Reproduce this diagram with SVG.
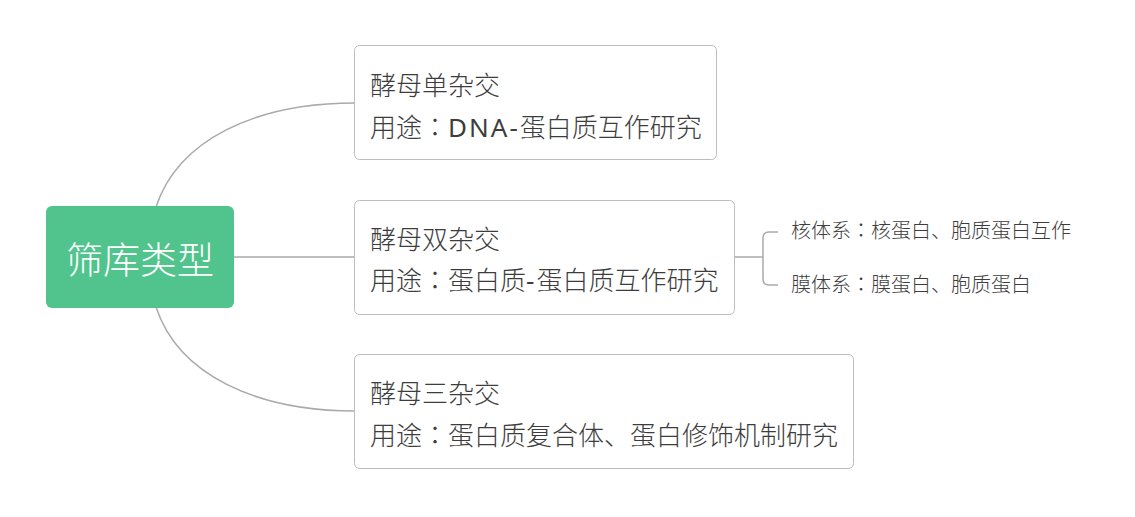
<svg xmlns="http://www.w3.org/2000/svg" width="1135" height="517" viewBox="0 0 1135 517">
<style>
.box{fill:#fff;stroke:#bdbdbd;stroke-width:1}
.t{font-family:"Noto Sans","Noto Sans CJK SC",sans-serif;fill:#3d3d3d;font-size:26px;font-weight:300}
.s{font-family:"Noto Sans","Noto Sans CJK SC",sans-serif;fill:#3d3d3d;font-size:20px;font-weight:300}
.k{font-family:"Noto Sans CJK TC",sans-serif}
.l{font-weight:400;letter-spacing:2px}
.c{fill:none;stroke:#aaaaaa;stroke-width:1.5}
</style>
<rect width="1135" height="517" fill="#fff"/>
<g id="connectors">
<path class="c" d="M156,207 C178,140 255,103 355,103"/>
<path class="c" d="M234,257 L355,257"/>
<path class="c" d="M156,307 C178,374 255,411 355,411"/>
<path class="c" d="M735,257 L763,257"/>
<path class="c" d="M778,232 L769,232 Q763,232 763,238 L763,279 Q763,285 769,285 L778,285"/>
</g>
<g id="root">
<rect x="46" y="206" width="188" height="102" rx="6" fill="#50c48c"/>
<text x="140" y="274" text-anchor="middle" font-family="Noto Sans CJK SC,Noto Sans,sans-serif" font-size="37" font-weight="300" fill="#fff">筛库类型</text>
</g>
<g id="n1">
<rect class="box" x="354.5" y="45.5" width="362" height="114" rx="5"/>
<text class="t" x="370" y="95">酵母单杂交</text>
<text class="t" x="370" y="137">用途<tspan class="k">：</tspan><tspan class="l">DNA-</tspan>蛋白质互作研究</text>
</g>
<g id="n2">
<rect class="box" x="354.5" y="200.5" width="380" height="114" rx="5"/>
<text class="t" x="370" y="249">酵母双杂交</text>
<text class="t" x="370" y="290">用途<tspan class="k">：</tspan>蛋白质<tspan class="l">-</tspan>蛋白质互作研究</text>
</g>
<g id="n3">
<rect class="box" x="354.5" y="354.5" width="499" height="114" rx="5"/>
<text class="t" x="370" y="403">酵母三杂交</text>
<text class="t" x="370" y="445">用途<tspan class="k">：</tspan>蛋白质复合体、蛋白修饰机制研究</text>
</g>
<g id="n2a">
<text class="s" x="791" y="238">核体系<tspan class="k">：</tspan>核蛋白、胞质蛋白互作</text>
</g>
<g id="n2b">
<text class="s" x="791" y="292">膜体系<tspan class="k">：</tspan>膜蛋白、胞质蛋白</text>
</g>
</svg>
